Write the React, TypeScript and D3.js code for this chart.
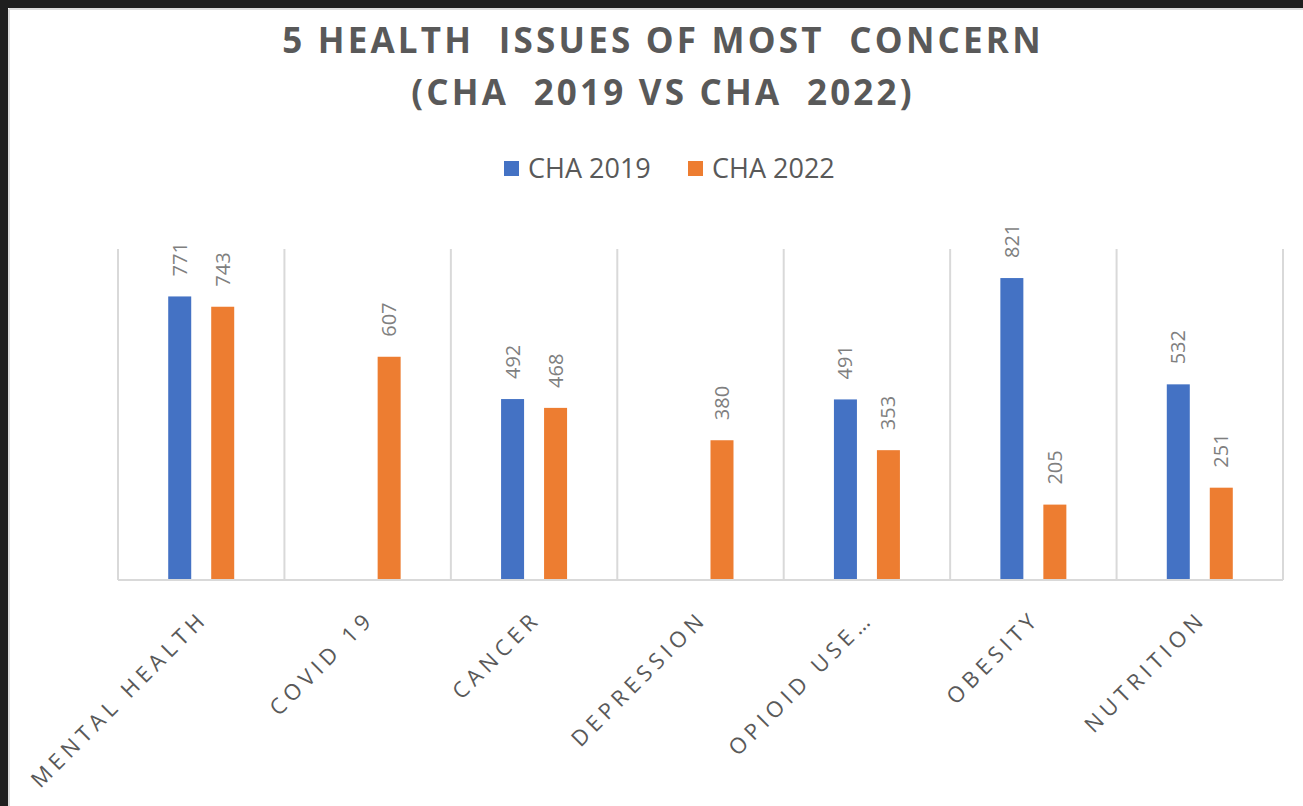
import React, { useEffect, useRef } from 'react';
import * as d3 from 'd3';

const categories = ['MENTAL HEALTH', 'COVID 19', 'CANCER', 'DEPRESSION', 'OPIOID USE…', 'OBESITY', 'NUTRITION'];
const seriesNames = ['CHA 2019', 'CHA 2022'];
const cha2019 = [771, null, 492, null, 491, 821, 532];
const cha2022 = [743, 607, 468, 380, 353, 205, 251];
const seriesColors = ['#4472C4', '#ED7D31'];
const titleLines = ['5 HEALTH  ISSUES OF MOST  CONCERN', '(CHA  2019 VS CHA  2022)'];

function App() {
  const chartRef = useRef(null);

  useEffect(() => {
    const width = 1303;
    const height = 806;
    const plot = { left: 118, right: 1283, top: 249, bottom: 580 };

    const svg = d3.select(chartRef.current);
    svg.selectAll('*').remove();
    svg.attr('width', width).attr('height', height);

    // window frame
    svg.append('rect').attr('width', width).attr('height', height).attr('fill', '#fff');
    svg.append('rect').attr('width', width).attr('height', 8).attr('fill', '#1f1f1f');
    svg.append('rect').attr('width', 8).attr('height', height).attr('fill', '#1f1f1f');
    svg.append('line').attr('x1', 9).attr('x2', width).attr('y1', 9).attr('y2', 9)
      .attr('stroke', '#dcdcdc').attr('stroke-width', 2);
    svg.append('line').attr('x1', 9).attr('x2', 9).attr('y1', 9).attr('y2', height)
      .attr('stroke', '#dcdcdc').attr('stroke-width', 2);

    // title
    svg.append('text')
      .attr('x', 662)
      .attr('text-anchor', 'middle')
      .attr('font-family', 'Open Sans')
      .attr('font-weight', 700)
      .attr('font-size', 35)
      .attr('letter-spacing', 3.2)
      .attr('fill', '#595959')
      .style('white-space', 'pre')
      .selectAll('tspan')
      .data(titleLines)
      .enter()
      .append('tspan')
      .attr('x', 663)
      .attr('y', (d, i) => 53 + i * 52)
      .text(d => d);

    // legend
    const legend = svg.append('g').attr('font-family', 'Open Sans').attr('font-size', 27).attr('fill', '#595959');
    const legendX = [504, 688];
    seriesNames.forEach((name, i) => {
      legend.append('rect')
        .attr('x', legendX[i]).attr('y', 161).attr('width', 15).attr('height', 15)
        .attr('fill', seriesColors[i]);
      legend.append('text')
        .attr('x', legendX[i] + 24).attr('y', 178)
        .text(name);
    });

    const x0 = d3.scaleBand().domain(categories).range([plot.left, plot.right]).padding(0);
    const x1 = d3.scaleBand().domain(seriesNames).range([0, x0.bandwidth()])
      .paddingInner(0.465).paddingOuter(1.168);
    const y = d3.scaleLinear().domain([0, 900]).range([plot.bottom, plot.top]);

    // vertical separators
    const bounds = categories.map(c => x0(c)).concat([plot.right]);
    svg.append('g')
      .selectAll('line')
      .data(bounds)
      .enter()
      .append('line')
      .attr('x1', d => d).attr('x2', d => d)
      .attr('y1', plot.top).attr('y2', plot.bottom)
      .attr('stroke', '#d9d9d9').attr('stroke-width', 2);

    // bars
    const rows = categories.map((c, i) => ({ c, vals: [cha2019[i], cha2022[i]] }));
    const barData = rows.flatMap(r => r.vals.map((v, j) => ({ c: r.c, s: seriesNames[j], v, j })))
      .filter(d => d.v != null);

    svg.append('g')
      .selectAll('rect')
      .data(barData)
      .enter()
      .append('rect')
      .attr('x', d => x0(d.c) + x1(d.s))
      .attr('y', d => y(d.v))
      .attr('width', x1.bandwidth())
      .attr('height', d => y(0) - y(d.v))
      .attr('fill', d => seriesColors[d.j]);

    // value labels
    svg.append('g')
      .selectAll('text')
      .data(barData)
      .enter()
      .append('text')
      .attr('transform', d => `translate(${x0(d.c) + x1(d.s) + x1.bandwidth() / 2}, ${y(d.v) - 20}) rotate(-90)`)
      .attr('dy', '0.35em')
      .attr('font-family', 'Open Sans')
      .attr('font-size', 20)
      .attr('fill', '#7f7f7f')
      .text(d => d.v);

    // x axis line
    svg.append('line')
      .attr('x1', plot.left).attr('x2', plot.right)
      .attr('y1', plot.bottom).attr('y2', plot.bottom)
      .attr('stroke', '#d9d9d9').attr('stroke-width', 2);

    // category labels
    svg.append('g')
      .selectAll('text')
      .data(categories)
      .enter()
      .append('text')
      .attr('transform', d => `translate(${x0(d) + x0.bandwidth() / 2 + 8}, 620) rotate(-45)`)
      .attr('text-anchor', 'end')
      .attr('font-family', 'Open Sans')
      .attr('font-size', 22)
      .attr('letter-spacing', 5)
      .attr('fill', '#595959')
      .text(d => d);
  }, []);

  return (
    <div style={{ position: 'absolute', left: 0, top: 0 }}>
      <svg ref={chartRef} style={{ display: 'block' }}></svg>
    </div>
  );
}

export default App;
